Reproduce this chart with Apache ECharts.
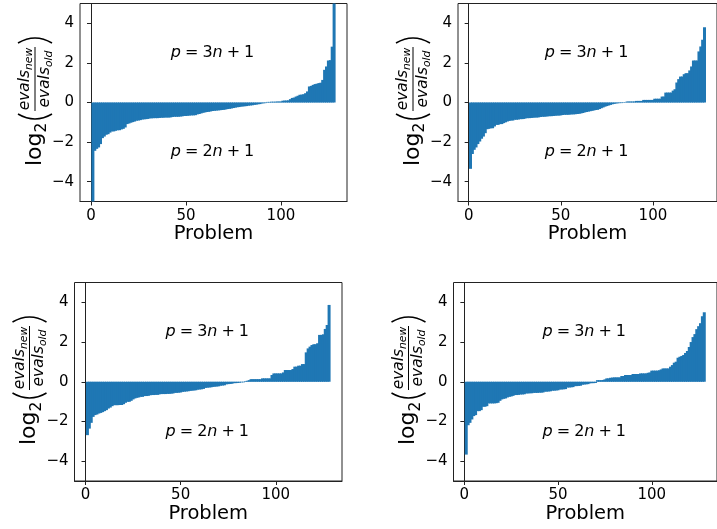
<!DOCTYPE html>
<html><head><meta charset="utf-8">
<script src="https://cdn.jsdelivr.net/npm/echarts@6/dist/echarts.min.js"></script>
<style>html,body{margin:0;padding:0;background:#fff}#c{width:717px;height:529px}</style>
</head><body><div id="c"></div>
<script>
// ---- data ----
const xTicks = [0, 50, 100];
const yTicks = [-4, -2, 0, 2, 4];
const xLabel = 'Problem';
const upperText = 'p = 3n + 1';
const lowerText = 'p = 2n + 1';

const valuesTL = [
-5.6,-2.44,-2.34,-2.27,-2.10,-1.80,-1.72,-1.63,-1.60,-1.52,
-1.46,-1.46,-1.43,-1.40,-1.40,-1.36,-1.33,-1.26,-1.09,-1.06,
-1.02,-0.99,-0.96,-0.92,-0.91,-0.89,-0.86,-0.85,-0.84,-0.83,
-0.80,-0.80,-0.79,-0.79,-0.79,-0.78,-0.77,-0.77,-0.76,-0.76,
-0.76,-0.75,-0.73,-0.72,-0.72,-0.72,-0.71,-0.70,-0.68,-0.68,
-0.67,-0.66,-0.65,-0.65,-0.64,-0.60,-0.58,-0.55,-0.52,-0.50,
-0.48,-0.47,-0.45,-0.43,-0.42,-0.41,-0.40,-0.39,-0.38,-0.37,
-0.35,-0.33,-0.32,-0.30,-0.28,-0.26,-0.24,-0.23,-0.21,-0.20,
-0.19,-0.18,-0.16,-0.15,-0.14,-0.12,-0.11,-0.09,-0.08,-0.05,
-0.04,-0.03,0.03,0.03,0.04,0.04,0.04,0.05,0.05,0.05,
0.09,0.10,0.10,0.11,0.17,0.23,0.25,0.30,0.34,0.39,
0.40,0.42,0.47,0.56,0.81,0.84,0.89,0.93,0.95,0.98,
1.00,1.14,1.65,1.82,2.12,2.14,2.82,5.6];

const valuesTR = [
-3.35,-2.60,-2.39,-2.27,-2.10,-1.97,-1.83,-1.72,-1.55,-1.35,
-1.33,-1.30,-1.30,-1.21,-1.13,-1.13,-1.09,-1.09,-1.04,-1.00,
-0.96,-0.93,-0.91,-0.91,-0.87,-0.87,-0.86,-0.84,-0.84,-0.83,
-0.80,-0.79,-0.79,-0.78,-0.77,-0.76,-0.76,-0.75,-0.73,-0.72,
-0.72,-0.71,-0.70,-0.69,-0.69,-0.68,-0.67,-0.66,-0.66,-0.65,
-0.63,-0.62,-0.62,-0.62,-0.61,-0.60,-0.60,-0.59,-0.58,-0.57,
-0.55,-0.53,-0.50,-0.48,-0.46,-0.44,-0.42,-0.40,-0.38,-0.37,
-0.33,-0.29,-0.25,-0.21,-0.18,-0.15,-0.12,-0.09,-0.07,-0.05,
-0.04,-0.03,-0.03,-0.02,-0.02,0.05,0.05,0.05,0.05,0.05,
0.08,0.08,0.08,0.08,0.13,0.13,0.13,0.13,0.13,0.13,
0.19,0.19,0.19,0.19,0.30,0.30,0.50,0.50,0.50,0.50,
0.60,0.67,1.01,1.18,1.31,1.31,1.43,1.48,1.48,1.62,
1.82,2.12,2.12,2.12,2.58,2.83,3.17,3.80];

const valuesBL = [
-2.69,-2.36,-2.07,-1.77,-1.68,-1.65,-1.60,-1.57,-1.53,-1.48,
-1.43,-1.35,-1.30,-1.23,-1.18,-1.18,-1.18,-1.17,-1.17,-1.13,
-1.06,-1.01,-1.01,-0.96,-0.89,-0.84,-0.81,-0.79,-0.76,-0.76,
-0.72,-0.72,-0.71,-0.68,-0.67,-0.67,-0.66,-0.66,-0.63,-0.62,
-0.62,-0.62,-0.61,-0.61,-0.60,-0.59,-0.56,-0.56,-0.55,-0.54,
-0.51,-0.50,-0.49,-0.48,-0.46,-0.45,-0.44,-0.43,-0.40,-0.39,
-0.38,-0.36,-0.31,-0.30,-0.29,-0.28,-0.26,-0.25,-0.24,-0.23,
-0.20,-0.19,-0.18,-0.13,-0.12,-0.11,-0.10,-0.07,-0.07,-0.06,
-0.05,-0.03,-0.03,0.03,0.05,0.08,0.13,0.13,0.13,0.13,
0.13,0.13,0.17,0.17,0.17,0.17,0.17,0.34,0.42,0.42,
0.42,0.42,0.42,0.47,0.59,0.59,0.59,0.59,0.64,0.76,
0.76,0.81,0.81,0.89,0.89,1.48,1.68,1.77,1.85,1.89,
1.89,1.94,2.36,2.36,2.39,2.66,2.86,3.87];

const valuesBR = [
-3.67,-2.19,-2.07,-1.90,-1.73,-1.68,-1.48,-1.48,-1.43,-1.26,
-1.26,-1.23,-1.09,-1.09,-1.09,-1.09,-1.08,-1.06,-0.96,-0.89,
-0.86,-0.84,-0.79,-0.76,-0.74,-0.71,-0.67,-0.67,-0.66,-0.64,
-0.64,-0.63,-0.59,-0.59,-0.58,-0.58,-0.56,-0.56,-0.56,-0.55,
-0.55,-0.54,-0.50,-0.50,-0.49,-0.48,-0.45,-0.45,-0.44,-0.43,
-0.39,-0.39,-0.38,-0.37,-0.29,-0.29,-0.28,-0.27,-0.22,-0.22,
-0.21,-0.20,-0.15,-0.14,-0.13,-0.12,-0.08,-0.07,-0.07,-0.06,
0.08,0.08,0.08,0.09,0.12,0.17,0.17,0.20,0.21,0.22,
0.22,0.22,0.22,0.29,0.29,0.34,0.34,0.34,0.34,0.39,
0.39,0.39,0.39,0.42,0.42,0.42,0.42,0.45,0.47,0.56,
0.56,0.56,0.56,0.58,0.62,0.67,0.67,0.67,0.67,0.76,
0.84,0.96,1.01,1.21,1.26,1.30,1.35,1.45,1.55,1.75,
2.00,2.25,2.40,2.65,2.80,2.95,3.30,3.50];

// ---- layout / style ----
const panels = [valuesTL, valuesTR, valuesBL, valuesBR];
const grids = [
  {left: 80,    top: 3.5,   width: 267,   height: 198},
  {left: 458,   top: 3.5,   width: 267,   height: 198},
  {left: 74.5,  top: 282.5, width: 267.5, height: 198.5},
  {left: 453.5, top: 282.5, width: 267,   height: 198.5}
];
const BLUE = '#1f77b4';
const FONT = 'DejaVu Sans';
const AX = '#222';

function mathRich(s) {
  let out = '';
  for (const ch of s) {
    if (/[a-z]/i.test(ch)) out += '{i|' + ch + '}';
    else if (ch === ' ') out += '{r|\u2005}';
    else out += '{r|' + ch + '}';
  }
  return out;
}

function yLabel(cx, cy) {
  const F = 22, S = 15.4, SS = 10.8;
  const t = (txt, x, y, size, italic) => ({
    type: 'text', x: x, y: y, silent: true,
    style: {text: txt, fontSize: size, fontFamily: FONT, fontStyle: italic ? 'italic' : 'normal',
            fill: '#000', align: 'left', verticalAlign: 'middle'}
  });
  return {
    type: 'group', x: cx, y: cy, rotation: Math.PI / 2, silent: true,
    children: [
      t('log', -66, 0, F, false),
      t('2', -32.6, 7, S, false),
      {type: 'bezierCurve', silent: true, shape: {x1: -14, y1: -17, x2: -14, y2: 17, cpx1: -24, cpy1: 0},
       style: {stroke: '#000', lineWidth: 1.5, fill: null}},
      t('evals', -10.3, -10, S, true),
      t('new', 30, -5.5, SS, true),
      {type: 'line', silent: true, shape: {x1: -11, y1: 0, x2: 53, y2: 0}, style: {stroke: '#000', lineWidth: 1}},
      t('evals', -7.4, 9.5, S, true),
      t('old', 33, 14, SS, true),
      {type: 'bezierCurve', silent: true, shape: {x1: 57, y1: -17, x2: 57, y2: 17, cpx1: 67, cpy1: 0},
       style: {stroke: '#000', lineWidth: 1.5, fill: null}}
    ]
  };
}

const option = {
  animation: false,
  backgroundColor: '#fff',
  grid: grids.map(g => Object.assign({show: true, borderColor: AX, borderWidth: 1, backgroundColor: 'transparent'}, g)),
  xAxis: grids.map((g, k) => ({
    gridIndex: k, type: 'value', min: -5.79, max: 134.79,
    axisLine: {show: true, onZero: false, lineStyle: {color: AX, width: 1}},
    axisTick: {show: true, customValues: xTicks, length: 4, lineStyle: {color: AX}},
    axisLabel: {customValues: xTicks, fontSize: 15, color: '#000', margin: 7, fontFamily: FONT},
    splitLine: {show: false},
    name: xLabel, nameLocation: 'middle', nameGap: 22,
    nameTextStyle: {fontSize: 19.5, color: '#000', fontFamily: FONT}
  })),
  yAxis: grids.map((g, k) => ({
    gridIndex: k, type: 'value', min: -5, max: 5,
    axisLine: {show: true, lineStyle: {color: AX, width: 1}},
    axisTick: {show: true, customValues: yTicks, length: 4, lineStyle: {color: AX}},
    axisLabel: {customValues: yTicks, fontSize: 15, color: '#000', margin: 6, fontFamily: FONT,
                formatter: v => String(v).replace('-', '\u2212')},
    splitLine: {show: false}
  })),
  series: [],
  graphic: {elements: [yLabel(35, 100), yLabel(413, 100), yLabel(29.5, 379), yLabel(408.5, 379)]}
};

const rich = {
  i: {fontSize: 16, fontStyle: 'italic', fontFamily: FONT, color: '#000', textBorderWidth: 0},
  r: {fontSize: 16, fontFamily: FONT, color: '#000', textBorderWidth: 0}
};

panels.forEach((vals, k) => {
  option.series.push({
    type: 'bar', xAxisIndex: k, yAxisIndex: k, silent: true, clip: true,
    barWidth: 3, itemStyle: {color: BLUE},
    data: vals.map((v, i) => [i + 1, v])
  });
  option.series.push({
    type: 'scatter', xAxisIndex: k, yAxisIndex: k, silent: true,
    symbolSize: 1, itemStyle: {color: 'rgba(0,0,0,0)', opacity: 1},
    data: [[64, 2.5, upperText], [64, -2.5, lowerText]],
    label: {show: true, position: 'inside', color: '#000', opacity: 1, textBorderWidth: 0,
            formatter: p => mathRich(p.value[2]), rich: rich}
  });
});

const chart = echarts.init(document.getElementById('c'), null, {renderer: 'canvas'});
chart.setOption(option);
</script>
</body></html>
